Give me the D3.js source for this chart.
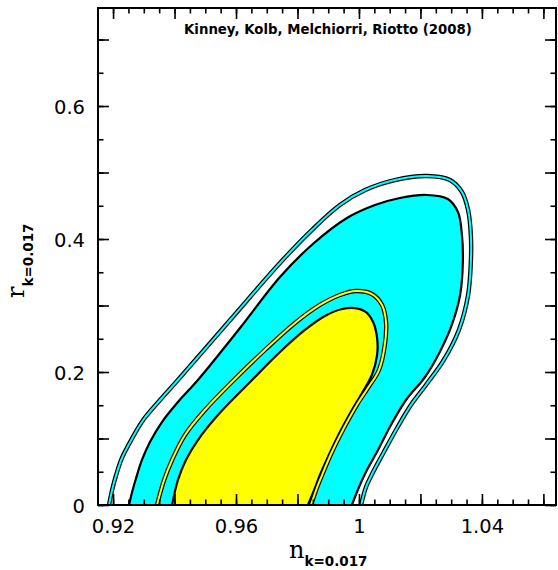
<!DOCTYPE html>
<meta charset="utf-8">
<style>
body { margin: 0; background: white; }
</style>
<body>
<script src="https://d3js.org/d3.v7.min.js"></script>
<script>

////*Contours, as [n, r] pairs*////
// filled 2-sigma region (cyan, black edge)
const cyanFill = [
   [0.9252, 0], [0.9262, 0.0196], [0.9275, 0.0406], [0.9294, 0.0677], [0.9320, 0.0947],
   [0.9359, 0.1248], [0.9411, 0.1549], [0.9476, 0.1880], [0.9613, 0.2662], [0.9743, 0.3429],
   [0.9850, 0.3925], [0.9961, 0.4316], [1.0052, 0.4511], [1.0133, 0.4617], [1.0221, 0.4662],
   [1.0289, 0.4602], [1.0322, 0.4406], [1.0335, 0.4060], [1.0338, 0.3654], [1.0329, 0.3158],
   [1.0302, 0.2707], [1.0263, 0.2301], [1.0215, 0.1925], [1.0153, 0.1579], [1.0104, 0.1203],
   [1.0062, 0.0827], [1.0026, 0.0526], [1.0003, 0.0301], [0.9977, 0]
];
// filled 1-sigma region (yellow, black edge)
const yellowFill = [
   [0.9392, 0], [0.9411, 0.0376], [0.9437, 0.0677], [0.9476, 0.0977], [0.9541, 0.1353],
   [0.9652, 0.1880], [0.9743, 0.2301], [0.9824, 0.2632], [0.9889, 0.2842], [0.9945, 0.2947],
   [0.9987, 0.2962], [1.0023, 0.2902], [1.0046, 0.2752], [1.0059, 0.2511], [1.0059, 0.2256],
   [1.0042, 0.1955], [1.0010, 0.1684], [0.9977, 0.1429], [0.9938, 0.1098], [0.9902, 0.0752],
   [0.9873, 0.0451], [0.9857, 0.0256], [0.9834, 0]
];
// outline-only 2-sigma contour (cyan line)
const cyanLine = [
   [0.9187, 0], [0.9197, 0.0226], [0.9210, 0.0451], [0.9229, 0.0707], [0.9259, 0.0977],
   [0.9298, 0.1278], [0.9353, 0.1579], [0.9411, 0.1880], [0.9581, 0.2782], [0.9743, 0.3639],
   [0.9850, 0.4150], [0.9938, 0.4511], [1.0020, 0.4737], [1.0117, 0.4887], [1.0221, 0.4947],
   [1.0296, 0.4887], [1.0335, 0.4707], [1.0355, 0.4436], [1.0364, 0.4060], [1.0364, 0.3654],
   [1.0355, 0.3158], [1.0325, 0.2632], [1.0276, 0.2181], [1.0218, 0.1805], [1.0169, 0.1504],
   [1.0124, 0.1158], [1.0081, 0.0797], [1.0046, 0.0496], [1.0023, 0.0271], [1.0007, 0]
];
// outline-only 1-sigma contour (yellow line)
const yellowLine = [
   [0.9343, 0], [0.9366, 0.0376], [0.9392, 0.0677], [0.9434, 0.1053], [0.9499, 0.1429],
   [0.9593, 0.1880], [0.9694, 0.2331], [0.9792, 0.2737], [0.9873, 0.3008], [0.9938, 0.3158],
   [0.9990, 0.3218], [1.0042, 0.3173], [1.0075, 0.3008], [1.0088, 0.2752], [1.0084, 0.2406],
   [1.0065, 0.2030], [1.0029, 0.1759], [0.9993, 0.1504], [0.9951, 0.1158], [0.9912, 0.0797],
   [0.9880, 0.0451], [0.9863, 0.0256], [0.9844, 0]
];

const xTickLabels = [0.92, 0.96, 1, 1.04];
const yTickLabels = [0, 0.2, 0.4, 0.6];
const titleText = "Kinney, Kolb, Melchiorri, Riotto (2008)";
const subText = "k=0.017";

////*Set-up*////
const plotVars = ({
   width: 558,
   height: 570,
   left: 98,
   right: 556,
   top: 8,
   bottom: 505
});

const xScale = d3.scaleLinear()
   .domain([0.9151, 1.0641])
   .range([plotVars.left, plotVars.right]);

const yScale = d3.scaleLinear()
   .domain([0, 0.7474])
   .range([plotVars.bottom, plotVars.top]);

const svg = d3.select("body")
   .append("svg")
   .attr("width", plotVars.width)
   .attr("height", plotVars.height)
   .style("display", "block");

svg.append("clipPath")
   .attr("id", "plot-clip")
   .append("rect")
   .attr("x", plotVars.left)
   .attr("y", plotVars.top)
   .attr("width", plotVars.right - plotVars.left)
   .attr("height", plotVars.bottom - plotVars.top);

const contourLine = d3.line()
   .x(d => xScale(d[0]))
   .y(d => yScale(d[1]))
   .curve(d3.curveCatmullRom.alpha(0.5));

const plot = svg.append("g").attr("clip-path", "url(#plot-clip)");

// filled region: close along r = 0, stroke only the curve
function drawFilled(points, color) {
   plot.append("path")
      .attr("d", contourLine(points) + "Z")
      .attr("fill", color)
      .attr("stroke", "none");
   plot.append("path")
      .attr("d", contourLine(points))
      .attr("fill", "none")
      .attr("stroke", "black")
      .attr("stroke-width", 2.2);
}

// outline-only contour: coloured line with black edges
function drawOutline(points, color) {
   plot.append("path")
      .attr("d", contourLine(points))
      .attr("fill", "none")
      .attr("stroke", "black")
      .attr("stroke-width", 4.4);
   plot.append("path")
      .attr("d", contourLine(points))
      .attr("fill", "none")
      .attr("stroke", color)
      .attr("stroke-width", 2);
}

drawFilled(cyanFill, "#00ffff");
drawOutline(cyanLine, "#00ffff");
drawFilled(yellowFill, "#ffff00");
drawOutline(yellowLine, "#ffff00");

////*Ticks, all pointing inward*////
const xMinor = d3.range(0.92, 1.0641, 0.005);
const xMajor = d3.range(0.92, 1.0641, 0.02);
const yMinor = d3.range(0, 0.7474, 0.05);
const yMajor = d3.range(0, 0.7474, 0.1);

function tickGroup(axis, transform) {
   const g = svg.append("g")
      .attr("transform", transform)
      .call(axis);
   g.select(".domain").remove();
   g.selectAll("line").attr("stroke", "black").attr("stroke-width", 1.6);
   return g;
}

tickGroup(d3.axisBottom(xScale).tickValues(xMinor).tickSize(-5.5).tickFormat(""), `translate(0,${plotVars.bottom})`);
tickGroup(d3.axisBottom(xScale).tickValues(xMajor).tickSize(-11).tickFormat(""), `translate(0,${plotVars.bottom})`);
tickGroup(d3.axisTop(xScale).tickValues(xMinor).tickSize(-5.5).tickFormat(""), `translate(0,${plotVars.top})`);
tickGroup(d3.axisTop(xScale).tickValues(xMajor).tickSize(-11).tickFormat(""), `translate(0,${plotVars.top})`);
tickGroup(d3.axisLeft(yScale).tickValues(yMinor).tickSize(-5.5).tickFormat(""), `translate(${plotVars.left},0)`);
tickGroup(d3.axisLeft(yScale).tickValues(yMajor).tickSize(-11).tickFormat(""), `translate(${plotVars.left},0)`);
tickGroup(d3.axisRight(yScale).tickValues(yMinor).tickSize(-5.5).tickFormat(""), `translate(${plotVars.right},0)`);
tickGroup(d3.axisRight(yScale).tickValues(yMajor).tickSize(-11).tickFormat(""), `translate(${plotVars.right},0)`);

// labelled axes
const xLabels = tickGroup(d3.axisBottom(xScale).tickValues(xTickLabels).tickSize(0).tickFormat(d => String(d)),
   `translate(0,${plotVars.bottom})`);
xLabels.selectAll("text")
   .attr("y", 28)
   .attr("dy", null)
   .style("font-family", "DejaVu Sans")
   .style("font-size", "19.5px")
   .attr("fill", "black");

const yLabels = tickGroup(d3.axisLeft(yScale).tickValues(yTickLabels).tickSize(0).tickFormat(d => String(d)),
   `translate(${plotVars.left},0)`);
yLabels.selectAll("text")
   .attr("x", -13)
   .attr("dy", "0.36em")
   .style("font-family", "DejaVu Sans")
   .style("font-size", "19.5px")
   .attr("fill", "black");

// frame
svg.append("rect")
   .attr("x", plotVars.left)
   .attr("y", plotVars.top)
   .attr("width", plotVars.right - plotVars.left)
   .attr("height", plotVars.bottom - plotVars.top)
   .attr("fill", "none")
   .attr("stroke", "black")
   .attr("stroke-width", 2);

////*Texts*////
svg.append("text")
   .attr("x", 328)
   .attr("y", 34)
   .attr("text-anchor", "middle")
   .style("font-family", "DejaVu Sans")
   .style("font-weight", "bold")
   .style("font-size", "13.3px")
   .text(titleText);

const xTitle = svg.append("text")
   .attr("x", 289)
   .attr("y", 558);
xTitle.append("tspan")
   .style("font-family", "DejaVu Serif")
   .style("font-size", "24px")
   .text("n");
xTitle.append("tspan")
   .attr("dy", 8)
   .style("font-family", "DejaVu Sans")
   .style("font-weight", "bold")
   .style("font-size", "13.5px")
   .text(subText);

const yTitle = svg.append("text")
   .attr("transform", "translate(24,298) rotate(-90)");
yTitle.append("tspan")
   .style("font-family", "DejaVu Serif")
   .style("font-size", "24px")
   .text("r");
yTitle.append("tspan")
   .attr("dy", 9)
   .style("font-family", "DejaVu Sans")
   .style("font-weight", "bold")
   .style("font-size", "13.5px")
   .text(subText);

</script>
</body>
</html>
